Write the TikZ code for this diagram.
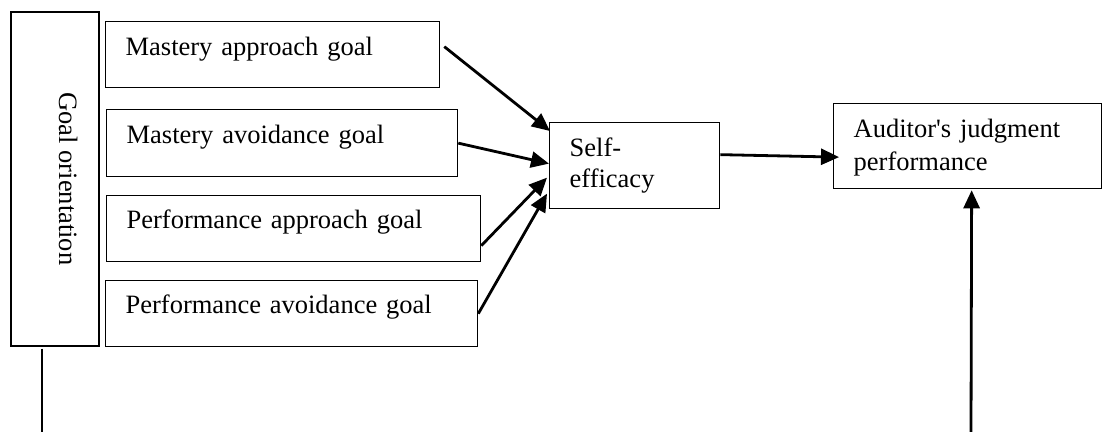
\documentclass[tikz,border=0pt]{standalone}
\usepackage{fontspec}
\setmainfont{Liberation Serif}[Ligatures=TeXOff]
\usetikzlibrary{arrows.meta}
\begin{document}
\begin{tikzpicture}[x=0.5pt,y=-0.5pt,
  box/.style={draw, line width=0.65pt, rectangle, anchor=north west, inner xsep=10pt, inner ysep=0pt, align=left, font=\fontsize{13.25pt}{15.5pt}\selectfont},
  arr/.style={line width=1.4pt, -{Triangle[length=9pt,width=8pt]}},
  thin/.style={line width=0.65pt}
]
\useasboundingbox (0,0) rectangle (1102,432);
\node[box, anchor=center, rotate=-90, align=center, minimum width=167pt, minimum height=44pt, text height=20pt, text depth=24pt] (go) at (55,179) {Goal orientation};
\node[box, text width=147pt, text height=17pt, text depth=16pt] (ma) at (105,21) {Mastery approach goal};
\node[box, text width=155.5pt, text height=17pt, text depth=16.5pt] (mav) at (106,109) {Mastery avoidance goal};
\node[box, text width=167pt, text height=16.5pt, text depth=16.5pt] (pap) at (106,195) {Performance approach goal};
\node[box, text width=166pt, text height=16.5pt, text depth=16.5pt] (pav) at (105,280) {Performance avoidance goal};
\node[box, text width=65pt, text height=17pt, text depth=26pt] (se) at (549,122) {Self-\\efficacy};
\node[box, text width=114pt, text height=17pt, text depth=25.5pt, font=\fontsize{13.25pt}{16.5pt}\selectfont] (aud) at (833,103) {Auditor's judgment\\performance};
\coordinate (b1) at (42,432);
\coordinate (b2) at (971,432);
\draw[arr] ([shift={(4,-8)}]ma.east) -- ([shift={(1,9)}]se.north west);
\draw[arr] (mav.east) -- ([shift={(0,-2)}]se.west);
\draw[arr] ([shift={(0,17)}]pap.east) -- ([shift={(-2,12)}]se.west);
\draw[arr] (pav.east) -- ([shift={(-2,28)}]se.west);
\draw[arr] ([shift={(0,-11)}]se.east) -- ([shift={(6,11)}]aud.west);
\draw[arr] (b2) -- ([shift={(4,1)}]aud.south);
\draw[thin] ([shift={(-13,2)}]go.east) -- (b1);
\end{tikzpicture}
\end{document}
